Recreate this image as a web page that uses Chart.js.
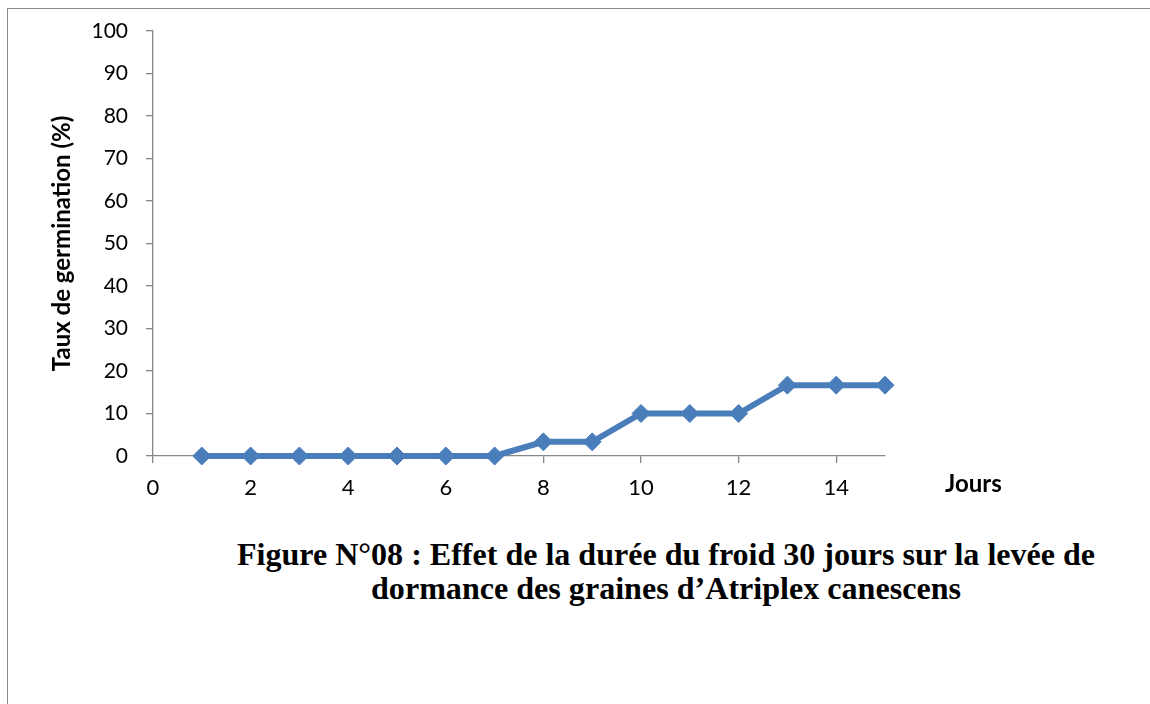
<!DOCTYPE html>
<html>
<head>
<meta charset="utf-8">
<script src="https://cdn.jsdelivr.net/npm/chart.js@4/dist/chart.umd.min.js"></script>
<style>
    body { margin: 0; width: 1150px; height: 704px; background: #fff; overflow: hidden; position: relative; }
    #frame { position: absolute; left: 7px; top: 8px; width: 1150px; height: 710px; border-top: 1.5px solid #8a8a8a; border-left: 1.5px solid #8a8a8a; }
    #wrap { position: absolute; left: 0; top: 0; width: 1150px; height: 520px; }
    #jours { position: absolute; left: 945px; top: 468px; font: bold 24px Lato, sans-serif; line-height: 30px; color: #000; }
    .cap { position: absolute; left: 666px; white-space: nowrap; font: bold 31px "Liberation Serif", serif; line-height: 33px; color: #000; transform-origin: 0 0; }
</style>
</head>
<body>
<div id="frame"></div>
<div id="wrap"><canvas id="chart"></canvas></div>
<div id="jours">Jours</div>
<div class="cap" id="cap1" style="top:538px">Figure N°08 : Effet de la durée du froid 30 jours sur la levée de</div>
<div class="cap" id="cap2" style="top:572px">dormance des graines d’Atriplex canescens</div>
<script>
// days and germination rate (%)
const jours = [1, 2, 3, 4, 5, 6, 7, 8, 9, 10, 11, 12, 13, 14, 15];
const taux = [0, 0, 0, 0, 0, 0, 0, 3.33, 3.33, 10, 10, 10, 16.67, 16.67, 16.67];
const xTicks = [0, 2, 4, 6, 8, 10, 12, 14];
const yTicks = [0, 10, 20, 30, 40, 50, 60, 70, 80, 90, 100];

const axisColor = '#878787';
const blue = '#4A7EBB';

const points = jours.map((j, i) => ({ x: j, y: taux[i] }));

const ctx = document.getElementById('chart').getContext('2d');
new Chart(ctx, {
    type: 'line',
    data: {
        datasets: [{
            data: points,
            borderColor: blue,
            backgroundColor: blue,
            borderWidth: 6,
            pointStyle: 'rectRot',
            pointRadius: 9,
            pointBorderWidth: 1,
            pointBorderColor: blue,
            tension: 0,
            clip: false
        }]
    },
    options: {
        responsive: true,
        maintainAspectRatio: false,
        animation: false,
        layout: { padding: { left: 44, top: 31, right: 265, bottom: 0 } },
        plugins: { legend: { display: false }, tooltip: { enabled: false } },
        scales: {
            x: {
                type: 'linear',
                min: 0,
                max: 15,
                afterBuildTicks: (scale) => { scale.ticks = xTicks.map(v => ({ value: v })); },
                afterFit: (scale) => { scale.height = 64; },
                grid: { drawOnChartArea: false, tickLength: 7, color: axisColor, lineWidth: 1.3 },
                border: { color: axisColor, width: 1.3 },
                ticks: { color: '#000', padding: 12, font: { family: 'Lato', size: 22 } }
            },
            y: {
                min: 0,
                max: 100,
                afterBuildTicks: (scale) => { scale.ticks = yTicks.map(v => ({ value: v })); },
                afterFit: (scale) => { scale.width = 109; },
                grid: { drawOnChartArea: false, tickLength: 7, color: axisColor, lineWidth: 1.3 },
                border: { color: axisColor, width: 1.3 },
                ticks: { color: '#000', padding: 18, font: { family: 'Lato', size: 21 } },
                title: {
                    display: true,
                    text: 'Taux de germination (%)',
                    color: '#000',
                    padding: { top: 4, bottom: 0 },
                    font: { family: 'Lato', size: 24, weight: 'bold' }
                }
            }
        }
    }
});

// caption lines: squeeze to the reference width and center on x=666
const capWidths = { cap1: 858, cap2: 590 };
Object.keys(capWidths).forEach(id => {
    const el = document.getElementById(id);
    const w = el.getBoundingClientRect().width;
    const s = capWidths[id] / w;
    el.style.left = (666 - capWidths[id] / 2) + 'px';
    el.style.transform = 'scaleX(' + s + ')';
});
</script>
</body>
</html>
